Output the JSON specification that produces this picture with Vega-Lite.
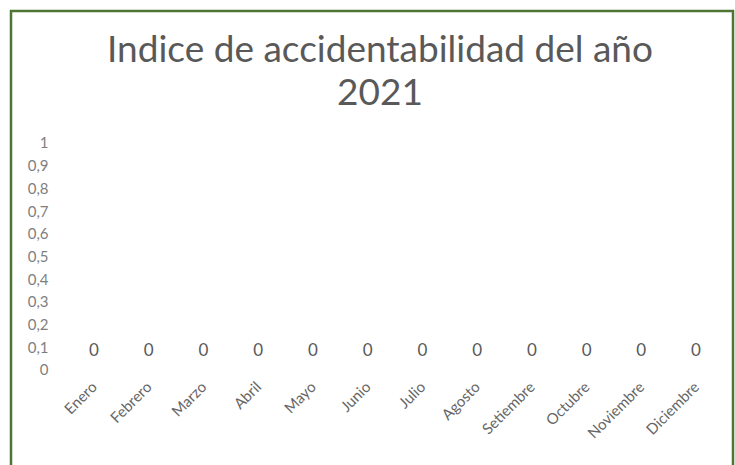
{
  "$schema": "https://vega.github.io/schema/vega-lite/v6.json",
  "autosize": "none",
  "width": 722,
  "height": 460,
  "padding": {"left": 11, "top": 11, "right": 2, "bottom": 0},
  "background": "white",
  "config": {
    "font": "Lato",
    "view": {"stroke": "#4e7534", "strokeWidth": 2.5},
    "axis": {"grid": false, "domain": false, "ticks": false}
  },
  "title": {
    "text": ["Indice de accidentabilidad del año", "2021"],
    "anchor": "middle",
    "frame": "group",
    "font": "Lato",
    "fontSize": 37,
    "fontWeight": "normal",
    "color": "#595959",
    "lineHeight": 43,
    "baseline": "alphabetic",
    "offset": -131,
    "dx": 8
  },
  "data": {
    "values": [
      {"mes": "Enero", "valor": 0},
      {"mes": "Febrero", "valor": 0},
      {"mes": "Marzo", "valor": 0},
      {"mes": "Abril", "valor": 0},
      {"mes": "Mayo", "valor": 0},
      {"mes": "Junio", "valor": 0},
      {"mes": "Julio", "valor": 0},
      {"mes": "Agosto", "valor": 0},
      {"mes": "Setiembre", "valor": 0},
      {"mes": "Octubre", "valor": 0},
      {"mes": "Noviembre", "valor": 0},
      {"mes": "Diciembre", "valor": 0}
    ]
  },
  "mark": {"type": "text", "dy": -19, "fontSize": 17, "color": "#595959", "font": "Lato"},
  "encoding": {
    "x": {
      "field": "mes",
      "type": "nominal",
      "sort": null,
      "title": null,
      "scale": {"range": [55.6, 712.4], "paddingInner": 0, "paddingOuter": 0},
      "axis": {
        "offset": -101,
        "labelAngle": -45,
        "labelAlign": "right",
        "labelBaseline": "middle",
        "labelPadding": 14,
        "labelFontSize": 15,
        "labelColor": "#666666",
        "labelFont": "Lato"
      }
    },
    "y": {
      "field": "valor",
      "type": "quantitative",
      "title": null,
      "scale": {"domain": [-0.445, 1.581], "nice": false, "zero": false},
      "axis": {
        "values": [0, 0.1, 0.2, 0.3, 0.4, 0.5, 0.6, 0.7, 0.8, 0.9, 1],
        "labelExpr": "replace(format(datum.value, '~g'), '.', ',')",
        "offset": -39,
        "labelPadding": 2,
        "labelFontSize": 15,
        "labelColor": "#7f7f7f",
        "labelFont": "Lato"
      }
    },
    "text": {"field": "valor", "type": "quantitative"}
  }
}
